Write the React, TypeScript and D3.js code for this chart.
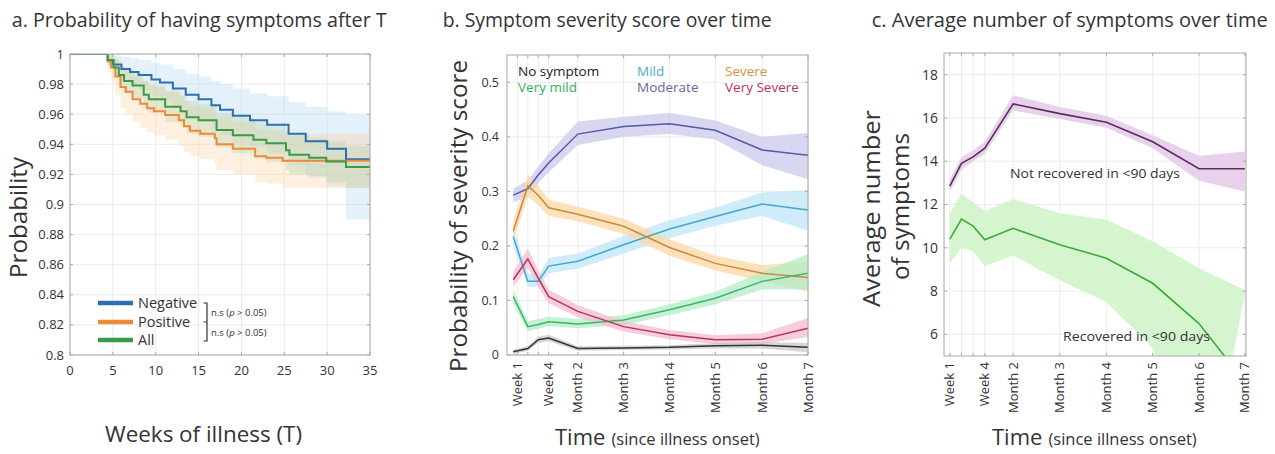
import React from "react";
import * as d3 from "d3";

// ---------- Panel a: Kaplan-Meier style step curves ----------
const negT = [0, 4.4, 5, 6, 7, 8, 9.5, 10.5, 12, 13.5, 15, 16.5, 17.5, 19, 21, 23, 25.5, 27.5, 30, 32.2, 35];
const negV = [1, 0.996, 0.993, 0.99, 0.988, 0.986, 0.983, 0.981, 0.977, 0.973, 0.97, 0.966, 0.963, 0.959, 0.956, 0.953, 0.947, 0.942, 0.937, 0.93, 0.93];
const negHi = [1, 1.0, 0.999, 0.998, 0.997, 0.996, 0.994, 0.993, 0.99, 0.987, 0.985, 0.982, 0.98, 0.977, 0.974, 0.972, 0.968, 0.965, 0.962, 0.96, 0.96];
const negLo = [1, 0.992, 0.987, 0.982, 0.979, 0.976, 0.972, 0.969, 0.964, 0.959, 0.955, 0.95, 0.946, 0.941, 0.938, 0.934, 0.926, 0.919, 0.912, 0.89, 0.89];

const posT = [0, 4.4, 4.8, 5.3, 5.9, 6.5, 7.3, 8.2, 9.0, 9.8, 11.1, 12.7, 13.3, 14.0, 15.2, 16.9, 17.1, 19, 21.6, 22.9, 24.8, 35];
const posV = [1, 0.995, 0.991, 0.985, 0.978, 0.975, 0.97, 0.967, 0.964, 0.962, 0.9595, 0.956, 0.952, 0.949, 0.947, 0.944, 0.94, 0.937, 0.932, 0.931, 0.929, 0.929];
const posHi = [1, 1.0, 0.999, 0.996, 0.991, 0.989, 0.985, 0.982, 0.98, 0.978, 0.976, 0.973, 0.969, 0.966, 0.964, 0.961, 0.958, 0.955, 0.95, 0.949, 0.947, 0.947];
const posLo = [1, 0.988, 0.982, 0.973, 0.964, 0.96, 0.955, 0.951, 0.948, 0.946, 0.943, 0.939, 0.935, 0.932, 0.93, 0.927, 0.923, 0.92, 0.915, 0.914, 0.911, 0.911];

const allT = [0, 4.4, 5.1, 5.7, 6.3, 7.3, 8.6, 9.2, 11.1, 12.9, 13.6, 15.0, 17.1, 19.0, 21.4, 22.9, 25.2, 25.6, 27.9, 29.9, 32.2, 35];
const allV = [1, 0.996, 0.991, 0.986, 0.982, 0.979, 0.973, 0.97, 0.965, 0.962, 0.958, 0.956, 0.9495, 0.946, 0.943, 0.9407, 0.936, 0.933, 0.931, 0.9285, 0.925, 0.925];
const allHi = [1, 1.0, 0.997, 0.993, 0.99, 0.987, 0.982, 0.979, 0.975, 0.972, 0.969, 0.967, 0.961, 0.958, 0.955, 0.953, 0.949, 0.946, 0.944, 0.942, 0.939, 0.939];
const allLo = [1, 0.992, 0.985, 0.979, 0.974, 0.971, 0.964, 0.961, 0.955, 0.952, 0.947, 0.945, 0.938, 0.934, 0.931, 0.928, 0.923, 0.92, 0.918, 0.915, 0.911, 0.911];

const aXTicks = [0, 5, 10, 15, 20, 25, 30, 35];
const aYTicks = [0.8, 0.82, 0.84, 0.86, 0.88, 0.9, 0.92, 0.94, 0.96, 0.98, 1];
const aYTickLabels = ["0.8", "0.82", "0.84", "0.86", "0.88", "0.9", "0.92", "0.94", "0.96", "0.98", "1"];

// ---------- Panel b: severity probabilities ----------
const bTickPos = [1, 2, 3, 4, 6.8, 11.2, 15.6, 20.0, 24.5, 28.9];
const bTickLabels = ["Week 1", "", "", "Week 4", "Month 2", "Month 3", "Month 4", "Month 5", "Month 6", "Month 7"];
const bX = [0.6, 2, 3, 4, 6.8, 11.2, 15.6, 20.0, 24.5, 28.9];
const bYTicks = [0, 0.1, 0.2, 0.3, 0.4, 0.5];

const noneV = [0.006, 0.012, 0.028, 0.031, 0.012, 0.013, 0.014, 0.017, 0.018, 0.014];
const noneLo = [0.002, 0.008, 0.022, 0.025, 0.008, 0.009, 0.01, 0.012, 0.012, 0.005];
const noneHi = [0.01, 0.016, 0.034, 0.037, 0.016, 0.017, 0.018, 0.022, 0.024, 0.022];

const vmildV = [0.107, 0.052, 0.056, 0.061, 0.057, 0.064, 0.083, 0.104, 0.135, 0.15];
const vmildLo = [0.095, 0.043, 0.048, 0.053, 0.049, 0.055, 0.073, 0.093, 0.12, 0.12];
const vmildHi = [0.12, 0.062, 0.066, 0.07, 0.066, 0.073, 0.093, 0.116, 0.152, 0.185];

const mildV = [0.217, 0.135, 0.135, 0.163, 0.172, 0.202, 0.231, 0.254, 0.277, 0.266];
const mildLo = [0.2, 0.125, 0.125, 0.15, 0.158, 0.186, 0.214, 0.237, 0.255, 0.228];
const mildHi = [0.235, 0.15, 0.145, 0.178, 0.186, 0.218, 0.247, 0.27, 0.298, 0.302];

const modV = [0.293, 0.305, 0.33, 0.352, 0.405, 0.419, 0.424, 0.412, 0.376, 0.366];
const modLo = [0.28, 0.29, 0.315, 0.335, 0.385, 0.4, 0.405, 0.395, 0.348, 0.322];
const modHi = [0.305, 0.32, 0.345, 0.37, 0.428, 0.437, 0.444, 0.43, 0.4, 0.407];

const sevV = [0.227, 0.31, 0.293, 0.27, 0.258, 0.236, 0.197, 0.168, 0.15, 0.142];
const sevLo = [0.21, 0.29, 0.275, 0.255, 0.245, 0.222, 0.182, 0.155, 0.135, 0.116];
const sevHi = [0.245, 0.33, 0.31, 0.285, 0.272, 0.25, 0.212, 0.182, 0.165, 0.171];

const vsevV = [0.138, 0.176, 0.141, 0.107, 0.08, 0.052, 0.037, 0.028, 0.029, 0.049];
const vsevLo = [0.125, 0.16, 0.125, 0.095, 0.069, 0.043, 0.029, 0.02, 0.02, 0.033];
const vsevHi = [0.152, 0.195, 0.155, 0.12, 0.091, 0.062, 0.046, 0.036, 0.04, 0.068];

// ---------- Panel c: average number of symptoms ----------
const cTickPos = [1, 2, 3, 4, 6.43, 10.43, 14.43, 18.4, 22.37, 26.3];
const cTickLabels = ["Week 1", "", "", "Week 4", "Month 2", "Month 3", "Month 4", "Month 5", "Month 6", "Month 7"];
const cX = [1, 2, 3, 4, 6.43, 10.43, 14.43, 18.4, 22.37, 26.3];
const cYTicks = [6, 8, 10, 12, 14, 16, 18];

const notRecV = [12.85, 13.9, 14.2, 14.6, 16.65, 16.2, 15.8, 14.9, 13.65, 13.65];
const notRecLo = [12.6, 13.6, 14.0, 14.35, 16.35, 15.95, 15.55, 14.6, 13.1, 12.6];
const notRecHi = [13.15, 14.2, 14.5, 14.9, 17.05, 16.5, 16.1, 15.2, 14.25, 14.45];

const recV = [10.4, 11.33, 11.0, 10.37, 10.9, 10.14, 9.52, 8.36, 6.5, 3.8];
const recLo = [9.3, 10.0, 9.83, 9.15, 9.65, 8.5, 7.5, 5.38, -3.3, 7.9];
const recHi = [11.6, 12.5, 12.1, 11.7, 12.25, 11.6, 11.3, 10.3, 9.05, 8.05];

const FONT = "'Open Sans', 'Noto Sans', sans-serif";
const FRAME = "#a8a8a8";
const GRID = "#ececec";
const TXT = "#333";

type Frm = { x0: number; x1: number; y0: number; y1: number };

function Grid({ f, xt, yt, id }: { f: Frm; xt: number[]; yt: number[]; id: string }) {
  return (
    <g>
      {xt.map((x, i) => (
        <line key={id + "gx" + i} x1={x} x2={x} y1={f.y0} y2={f.y1} stroke={GRID} strokeWidth={1} />
      ))}
      {yt.map((y, i) => (
        <line key={id + "gy" + i} x1={f.x0} x2={f.x1} y1={y} y2={y} stroke={GRID} strokeWidth={1} />
      ))}
    </g>
  );
}

function BoxTop({ f, xt, yt, id }: { f: Frm; xt: number[]; yt: number[]; id: string }) {
  const tl = 3;
  return (
    <g>
      <rect x={f.x0} y={f.y0} width={f.x1 - f.x0} height={f.y1 - f.y0} fill="none" stroke={FRAME} strokeWidth={1} />
      {xt.map((x, i) => (
        <g key={id + "tx" + i}>
          <line x1={x} x2={x} y1={f.y1} y2={f.y1 - tl} stroke={FRAME} />
          <line x1={x} x2={x} y1={f.y0} y2={f.y0 + tl} stroke={FRAME} />
        </g>
      ))}
      {yt.map((y, i) => (
        <g key={id + "ty" + i}>
          <line x1={f.x0} x2={f.x0 + tl} y1={y} y2={y} stroke={FRAME} />
          <line x1={f.x1} x2={f.x1 - tl} y1={y} y2={y} stroke={FRAME} />
        </g>
      ))}
    </g>
  );
}

export default function App() {
  // Panel a scales
  const fa: Frm = { x0: 70, x1: 370, y0: 54, y1: 355 };
  const xA = d3.scaleLinear().domain([0, 35]).range([fa.x0, fa.x1]);
  const yA = d3.scaleLinear().domain([0.8, 1]).range([fa.y1, fa.y0]);

  const kmLine = (t: number[], v: number[]) =>
    d3.line<number>().x((d) => xA(d)).y((d, i) => yA(v[i])).curve(d3.curveStepAfter)(t) || "";
  const kmArea = (t: number[], lo: number[], hi: number[]) =>
    d3.area<number>().x((d) => xA(d)).y0((d, i) => yA(lo[i])).y1((d, i) => yA(hi[i])).curve(d3.curveStepAfter)(t) || "";

  const kmSeries = [
    { t: negT, v: negV, lo: negLo, hi: negHi, color: "#2f6fb0", band: "#a9d3f2", op: 0.32 },
    { t: posT, v: posV, lo: posLo, hi: posHi, color: "#ec8a3a", band: "#fbcd98", op: 0.32 },
    { t: allT, v: allV, lo: allLo, hi: allHi, color: "#3a9a48", band: "#a9cfa0", op: 0.3 },
  ];

  // Panel b scales
  const fb: Frm = { x0: 507, x1: 808, y0: 55, y1: 355 };
  const xB = d3.scaleLinear().domain([0, 28.9]).range([fb.x0, fb.x1]);
  const yB = d3.scaleLinear().domain([0, 0.55]).range([fb.y1, fb.y0]);
  const bLine = (v: number[]) => d3.line<number>().x((d) => xB(d)).y((d, i) => yB(v[i]))(bX) || "";
  const bArea = (lo: number[], hi: number[]) =>
    d3.area<number>().x((d) => xB(d)).y0((d, i) => yB(lo[i])).y1((d, i) => yB(hi[i]))(bX) || "";
  const bSeries = [
    { v: modV, lo: modLo, hi: modHi, color: "#5557a8", band: "#c9caee", op: 0.75 },
    { v: mildV, lo: mildLo, hi: mildHi, color: "#44a6cf", band: "#bde6f7", op: 0.75 },
    { v: sevV, lo: sevLo, hi: sevHi, color: "#c98a3e", band: "#fbd7a4", op: 0.75 },
    { v: vmildV, lo: vmildLo, hi: vmildHi, color: "#3cb56b", band: "#b3ecc6", op: 0.75 },
    { v: vsevV, lo: vsevLo, hi: vsevHi, color: "#b7335f", band: "#f4bcd0", op: 0.75 },
    { v: noneV, lo: noneLo, hi: noneHi, color: "#333333", band: "#c4c4c4", op: 0.7 },
  ];

  // Panel c scales
  const fc: Frm = { x0: 944, x1: 1246, y0: 53, y1: 356 };
  const xC = d3.scaleLinear().domain([0.5, 26.4]).range([fc.x0, fc.x1]);
  const yC = d3.scaleLinear().domain([5, 19]).range([fc.y1, fc.y0]);
  const cLine = (v: number[]) => d3.line<number>().x((d) => xC(d)).y((d, i) => yC(v[i]))(cX) || "";
  const cArea = (lo: number[], hi: number[]) =>
    d3.area<number>().x((d) => xC(d)).y0((d, i) => yC(lo[i])).y1((d, i) => yC(hi[i]))(cX) || "";

  const legendA = [
    { label: "Negative", color: "#2f6fb0", y: 303 },
    { label: "Positive", color: "#ec8a3a", y: 322 },
    { label: "All", color: "#3a9a48", y: 340 },
  ];

  const legendB = [
    { label: "No symptom", color: "#222222", x: 518, y: 76 },
    { label: "Very mild", color: "#2fae63", x: 518, y: 92 },
    { label: "Mild", color: "#47abd0", x: 637, y: 76 },
    { label: "Moderate", color: "#66679e", x: 637, y: 92 },
    { label: "Severe", color: "#d49040", x: 725, y: 76 },
    { label: "Very Severe", color: "#c0305a", x: 725, y: 92 },
  ];

  return (
    <svg
      width={1275}
      height={454}
      style={{ position: "absolute", left: 0, top: 0, background: "#fff" }}
      fontFamily={FONT}
    >
      <defs>
        <clipPath id="clipA">
          <rect x={fa.x0} y={fa.y0} width={fa.x1 - fa.x0} height={fa.y1 - fa.y0} />
        </clipPath>
        <clipPath id="clipB">
          <rect x={fb.x0} y={fb.y0} width={fb.x1 - fb.x0} height={fb.y1 - fb.y0} />
        </clipPath>
        <clipPath id="clipC">
          <rect x={fc.x0} y={fc.y0} width={fc.x1 - fc.x0} height={fc.y1 - fc.y0} />
        </clipPath>
      </defs>
      <rect x={0} y={0} width={1275} height={454} fill="#fff" />

      {/* ---------------- Panel a ---------------- */}
      <text x={11.7} y={27} fontSize={19.5} fill={TXT} textLength={375} lengthAdjust="spacingAndGlyphs">
        a. Probability of having symptoms after T
      </text>
      <Grid f={fa} xt={aXTicks.map((d) => xA(d))} yt={aYTicks.map((d) => yA(d))} id="a" />
      <g clipPath="url(#clipA)">
        {kmSeries.map((s, i) => (
          <path key={"ka" + i} d={kmArea(s.t, s.lo, s.hi)} fill={s.band} fillOpacity={s.op} stroke="none" />
        ))}
        {kmSeries.map((s, i) => (
          <path key={"kl" + i} d={kmLine(s.t, s.v)} fill="none" stroke={s.color} strokeWidth={2} />
        ))}
      </g>
      <BoxTop f={fa} xt={aXTicks.map((d) => xA(d))} yt={aYTicks.map((d) => yA(d))} id="a" />
      {aYTicks.map((d, i) => (
        <text key={"ayl" + i} x={64} y={yA(d)} dy="0.35em" textAnchor="end" fontSize={13} fill={TXT}>
          {aYTickLabels[i]}
        </text>
      ))}
      {aXTicks.map((d, i) => (
        <text key={"axl" + i} x={xA(d)} y={375} textAnchor="middle" fontSize={13} fill={TXT}>
          {String(d)}
        </text>
      ))}
      <text transform="translate(27,217.5) rotate(-90)" textAnchor="middle" fontSize={24} fill={TXT} textLength={121} lengthAdjust="spacingAndGlyphs">
        Probability
      </text>
      <text x={203.5} y={442} textAnchor="middle" fontSize={22} fill={TXT} textLength={197} lengthAdjust="spacingAndGlyphs">
        Weeks of illness (T)
      </text>
      {legendA.map((l, i) => (
        <g key={"la" + i}>
          <line x1={98} x2={133} y1={l.y} y2={l.y} stroke={l.color} strokeWidth={4.5} />
          <text x={138} y={l.y} dy="0.35em" fontSize={14.5} fill={TXT}>
            {l.label}
          </text>
        </g>
      ))}
      <path d="M203.5,303 H207 V341 H203.5 M207,322 H203.5" fill="none" stroke={TXT} strokeWidth={1.2} />
      <text x={211} y={316} fontSize={9.5} fill={TXT}>
        n.s (<tspan fontStyle="italic">p</tspan> {"> 0.05)"}
      </text>
      <text x={211} y={336} fontSize={9.5} fill={TXT}>
        n.s (<tspan fontStyle="italic">p</tspan> {"> 0.05)"}
      </text>

      {/* ---------------- Panel b ---------------- */}
      <text x={442.7} y={27} fontSize={19.5} fill={TXT} textLength={329} lengthAdjust="spacingAndGlyphs">
        b. Symptom severity score over time
      </text>
      <Grid f={fb} xt={bTickPos.map((d) => xB(d))} yt={bYTicks.map((d) => yB(d))} id="b" />
      <g clipPath="url(#clipB)">
        {bSeries.map((s, i) => (
          <path key={"ba" + i} d={bArea(s.lo, s.hi)} fill={s.band} fillOpacity={s.op} stroke="none" />
        ))}
        {bSeries.map((s, i) => (
          <path key={"bl" + i} d={bLine(s.v)} fill="none" stroke={s.color} strokeWidth={1.5} />
        ))}
      </g>
      <BoxTop f={fb} xt={bTickPos.map((d) => xB(d))} yt={bYTicks.map((d) => yB(d))} id="b" />
      {bYTicks.map((d, i) => (
        <text key={"byl" + i} x={499} y={yB(d)} dy="0.35em" textAnchor="end" fontSize={12.5} fill={TXT}>
          {String(d)}
        </text>
      ))}
      {bTickPos.map((d, i) =>
        bTickLabels[i] ? (
          <text
            key={"bxl" + i}
            transform={`translate(${xB(d)},362) rotate(-90)`}
            dy="0.35em"
            textAnchor="end"
            fontSize={13}
            fill={TXT}
          >
            {bTickLabels[i]}
          </text>
        ) : null
      )}
      {legendB.map((l, i) => (
        <text key={"lb" + i} x={l.x} y={l.y} fontSize={13.5} fill={l.color}>
          {l.label}
        </text>
      ))}
      <text transform="translate(467,216) rotate(-90)" textAnchor="middle" fontSize={24} fill={TXT} textLength={312} lengthAdjust="spacingAndGlyphs">
        Probability of severity score
      </text>
      <text x={555} y={445} fill={TXT}>
        <tspan fontSize={22}>Time</tspan>
        <tspan fontSize={16.5} dx={6}>(since illness onset)</tspan>
      </text>

      {/* ---------------- Panel c ---------------- */}
      <text x={871.7} y={27} fontSize={19.5} fill={TXT} textLength={396} lengthAdjust="spacingAndGlyphs">
        c. Average number of symptoms over time
      </text>
      <Grid f={fc} xt={cTickPos.map((d) => xC(d))} yt={cYTicks.map((d) => yC(d))} id="c" />
      <g clipPath="url(#clipC)">
        <path d={cArea(notRecLo, notRecHi)} fill="#e3c9e8" fillOpacity={0.85} />
        <path d={cArea(recLo, recHi)} fill="#cdf3c4" fillOpacity={0.85} />
        <path d={cLine(notRecV)} fill="none" stroke="#5b2c5e" strokeWidth={1.6} />
        <path d={cLine(recV)} fill="none" stroke="#3daa3a" strokeWidth={1.6} />
      </g>
      <BoxTop f={fc} xt={cTickPos.map((d) => xC(d))} yt={cYTicks.map((d) => yC(d))} id="c" />
      {cYTicks.map((d, i) => (
        <text key={"cyl" + i} x={938} y={yC(d)} dy="0.35em" textAnchor="end" fontSize={14} fill={TXT}>
          {String(d)}
        </text>
      ))}
      {cTickPos.map((d, i) =>
        cTickLabels[i] ? (
          <text
            key={"cxl" + i}
            transform={`translate(${xC(d)},362) rotate(-90)`}
            dy="0.35em"
            textAnchor="end"
            fontSize={13}
            fill={TXT}
          >
            {cTickLabels[i]}
          </text>
        ) : null
      )}
      <text x={1010} y={178} fontSize={13.5} fill={TXT} textLength={170} lengthAdjust="spacingAndGlyphs">
        {"Not recovered in <90 days"}
      </text>
      <text x={1063} y={341} fontSize={13.5} fill={TXT} textLength={147} lengthAdjust="spacingAndGlyphs">
        {"Recovered in <90 days"}
      </text>
      <text transform="translate(880,208.5) rotate(-90)" textAnchor="middle" fontSize={24} fill={TXT} textLength={197} lengthAdjust="spacingAndGlyphs">
        Average number
      </text>
      <text transform="translate(909,206.5) rotate(-90)" textAnchor="middle" fontSize={24} fill={TXT} textLength={147} lengthAdjust="spacingAndGlyphs">
        of symptoms
      </text>
      <text x={992} y={445} fill={TXT}>
        <tspan fontSize={22}>Time</tspan>
        <tspan fontSize={16.5} dx={6}>(since illness onset)</tspan>
      </text>
    </svg>
  );
}
